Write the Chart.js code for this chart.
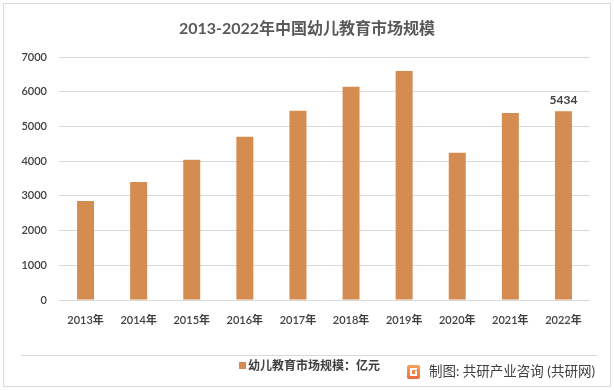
<!DOCTYPE html>
<html>
<head>
<meta charset="utf-8">
<script src="https://cdn.jsdelivr.net/npm/chart.js@4"></script>
<style>
  html, body { margin: 0; padding: 0; background: #fff; }
  #wrap { width: 614px; height: 390px; }
</style>
</head>
<body>
<div id="wrap"><canvas id="myChart" width="614" height="390"></canvas></div>
<script>
var years = ["2013年", "2014年", "2015年", "2016年", "2017年", "2018年", "2019年", "2020年", "2021年", "2022年"];
var marketSize = [2850, 3400, 4040, 4700, 5450, 6140, 6600, 4240, 5390, 5434];
var yTicks = [0, 1000, 2000, 3000, 4000, 5000, 6000, 7000];
var titleText = "2013-2022年中国幼儿教育市场规模";
var seriesLabel = "幼儿教育市场规模：亿元";
var sourceText = "制图: 共研产业咨询 (共研网)";

var barColor = "rgb(212, 140, 80)";
var font = 'Lato, "Noto Sans CJK SC", sans-serif';

// frame, title, legend and footer
var decor = {
    id: 'decor',
    beforeDraw: function (chart) {
        var c = chart.ctx;
        c.save();
        c.fillStyle = '#fff';
        c.fillRect(0, 0, 614, 390);
        c.strokeStyle = '#d9d9d9';
        c.lineWidth = 1;
        c.strokeRect(3.5, 3.5, 607, 383);
        c.restore();
    },
    afterDraw: function (chart) {
        var c = chart.ctx;
        c.save();
        c.fillStyle = '#595959';
        c.font = 'bold 16px ' + font;
        c.textAlign = 'center';
        c.textBaseline = 'middle';
        c.fillText(titleText, 307, 29);

        // separator
        c.strokeStyle = '#d9d9d9';
        c.beginPath();
        c.moveTo(21, 355.5);
        c.lineTo(597, 355.5);
        c.stroke();

        // legend
        c.fillStyle = barColor;
        c.fillRect(239, 362, 7, 7);
        c.fillStyle = '#404040';
        c.font = 'bold 12px ' + font;
        c.textAlign = 'left';
        c.fillText(seriesLabel, 248, 366);

        // logo
        var g = c.createLinearGradient(0, 365, 0, 379);
        g.addColorStop(0, '#f7a35c');
        g.addColorStop(1, '#f06a3a');
        c.fillStyle = g;
        c.beginPath();
        c.roundRect(407, 365, 13, 14, 2);
        c.fill();
        c.fillStyle = '#fff';
        c.fillRect(410, 368, 7, 2);
        c.fillRect(410, 368, 2, 8);
        c.fillRect(410, 374, 7, 2);
        c.fillRect(415, 371, 2, 5);

        c.fillStyle = '#404040';
        c.font = '13.5px ' + font;
        c.fillText(sourceText, 429, 372);
        c.restore();
    }
};

// value label on the last bar only
var lastLabel = {
    id: 'lastLabel',
    afterDatasetsDraw: function (chart) {
        var meta = chart.getDatasetMeta(0);
        var i = marketSize.length - 1;
        var bar = meta.data[i];
        var c = chart.ctx;
        c.save();
        c.fillStyle = '#404040';
        c.font = 'bold 12px ' + font;
        c.textAlign = 'center';
        c.textBaseline = 'bottom';
        c.fillText(String(marketSize[i]), bar.x, bar.y - 5);
        c.restore();
    }
};

var ctx = document.getElementById('myChart').getContext('2d');
var chart = new Chart(ctx, {
    type: 'bar',
    data: {
        labels: years,
        datasets: [{
            label: seriesLabel,
            data: marketSize,
            backgroundColor: barColor,
            categoryPercentage: 1,
            barPercentage: 0.32
        }]
    },
    options: {
        responsive: false,
        animation: false,
        layout: { padding: { left: 0, right: 24, top: 57, bottom: 0 } },
        plugins: {
            legend: { display: false },
            tooltip: { enabled: false }
        },
        scales: {
            x: {
                grid: { display: false },
                border: { display: false },
                ticks: { color: '#404040', font: { size: 11, family: font, weight: '600' }, padding: 6, maxRotation: 0 },
                afterFit: function (s) { s.height = 90; }
            },
            y: {
                min: 0,
                max: 7000,
                afterBuildTicks: function (s) { s.ticks = yTicks.map(function (v) { return { value: v }; }); },
                grid: { color: '#d9d9d9', drawTicks: false },
                border: { display: false },
                ticks: {
                    color: '#404040',
                    font: { size: 11, family: font, weight: '600' },
                    padding: 12,
                    callback: function (v) { return String(v); }
                },
                afterFit: function (s) { s.width = 59; }
            }
        }
    },
    plugins: [decor, lastLabel]
});
</script>
</body>
</html>
